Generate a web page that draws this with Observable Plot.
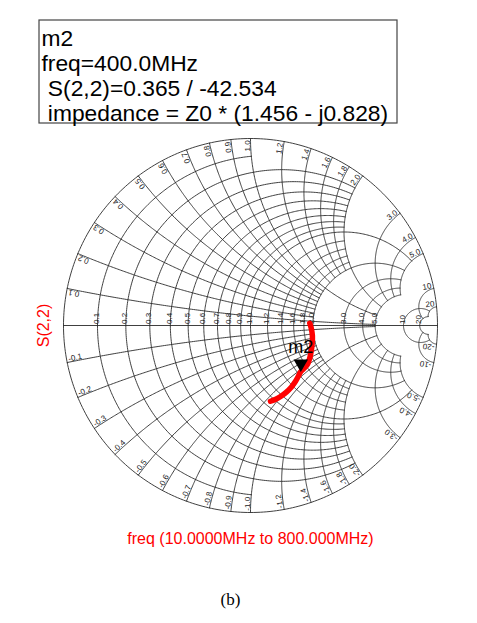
<!DOCTYPE html>
<html><head><meta charset="utf-8">
<script src="https://cdn.jsdelivr.net/npm/d3@7"></script>
<script src="https://cdn.jsdelivr.net/npm/@observablehq/plot@0.6"></script>
<style>body{margin:0;background:#fff}svg{display:block}</style>
</head><body><div id="chart"></div>
<script>
// Smith-chart grid values (normalized impedance) and how far each line reaches
const resistanceValues = [0.1,0.2,0.3,0.4,0.5,0.6,0.7,0.8,0.9,1.0,1.2,1.4,1.6,1.8,2.0,3.0,4.0,5.0,10,20];
const resistanceReach  = [1,2,2,2,2,2,2,2,2,5,2,2,2,2,5,5,5,5,20,20];   // max |x|
const reactanceValues  = [0.1,0.2,0.3,0.4,0.5,0.6,0.7,0.8,0.9,1.0,1.2,1.4,1.6,1.8,2.0,3.0,4.0,5.0,10,20];
const reactanceReach   = [5,2,2,2,2,2,2,2,2,5,2,2,2,2,5,5,5,5,20,20];   // max r
const resistanceLabels = ["0.1","0.2","0.3","0.4","0.5","0.6","0.7","0.8","0.9","1.0","1.2","1.4","1.6","1.8","2.0","3.0","4.0","5.0","10","20"];
const reactanceLabelsUpper = ["0.1","0.2","0.3","0.4","0.5","0.6","0.7","0.8","0.9","1.0","1.2","1.4","1.6","1.8","2.0","3.0","4.0","5.0","10","20"];
const reactanceLabelsLower = ["-0.1","-0.2","-0.3","-0.4","-0.5","-0.6","-0.7","-0.8","-0.9","-1.0","-1.2","-1.4","-1.6","-1.8","-2.0","-3.0","-4.0","-5.0","-10","-20"];

// S(2,2) trace (reflection coefficient re / im)
const traceFreqMHz = [10, 40, 80, 130, 180, 240, 300, 350, 400, 450, 500, 560, 620, 680, 740, 800];
const traceRe      = [0.317,0.326,0.331,0.330,0.325,0.318,0.306,0.290,0.269,0.255,0.240,0.218,0.192,0.163,0.135,0.107];
const traceIm      = [0.012,-0.020,-0.055,-0.095,-0.135,-0.170,-0.205,-0.226,-0.247,-0.273,-0.300,-0.330,-0.356,-0.378,-0.394,-0.405];

// marker readout
const markerName = "m2";
const markerFreq = "400.0MHz";
const markerMag = 0.365, markerAngleDeg = -42.534;
const markerZ = [1.456, -0.828];
const traceName = "S(2,2)";
const sweepText = "freq (10.0000MHz to 800.000MHz)";
const figureTag = "(b)";

// ---------- layout helpers (page pixel -> reflection plane) ----------
const CX = 250, CY = 325, RAD = 187;
const toX = px => (px - CX) / RAD, toY = py => (CY - py) / RAD;

// ---------- build grid geometry ----------
function gam(r,x){const den=(r+1)*(r+1)+x*x;return [((r-1)*(r+1)+x*x)/den,(2*x)/den];}
const gridPts = [];
function addR(r, X, id) {
  const cx = r/(1+r), rad = 1/(1+r);
  const [gx, gy] = gam(r, X);
  const aEnd = Math.atan2(gy, gx-cx);
  const n = 160;
  for (const s of [1,-1]) for (let i=0;i<=n;i++){
    const a = Math.PI + (aEnd-Math.PI)*i/n;
    gridPts.push({id:id+"_"+s, gx: cx+rad*Math.cos(a), gy: s*rad*Math.sin(a)});
  }
}
function addX(x, R, id) {
  const cy = 1/x, rad = 1/x;
  const [x0,y0] = gam(0,x), [x1,y1] = gam(R,x);
  let b0 = Math.atan2(y0-cy, x0-1), b1 = Math.atan2(y1-cy, x1-1);
  const T = 2*Math.PI;
  b0 = ((b0%T)+T)%T; b1 = ((b1%T)+T)%T; if (b1<b0) b1+=T;
  const n = 160;
  for (const s of [1,-1]) for (let i=0;i<=n;i++){
    const b = b0+(b1-b0)*i/n;
    gridPts.push({id:"x"+id+"_"+s, gx: 1+rad*Math.cos(b), gy: s*(cy+rad*Math.sin(b))});
  }
}
resistanceValues.forEach((r,i)=>addR(r, resistanceReach[i], "r"+i));
reactanceValues.forEach((x,i)=>addX(x, reactanceReach[i], i));
for (let i=0;i<=360;i++){const a=i/360*2*Math.PI;gridPts.push({id:"outer",gx:Math.cos(a),gy:Math.sin(a)});}

const rLab = resistanceValues.map((r,i)=>({gx:(r-1)/(r+1), gy:0, t:resistanceLabels[i]}));
const up = [], lo = [];
reactanceValues.forEach((x,i)=>{
  const [gx,gy] = gam(0,x);
  const th = Math.atan2(gy,gx);
  const rr = 0.99;
  up.push({gx: rr*Math.cos(th+0.004), gy: rr*Math.sin(th+0.004), rot: -th*180/Math.PI, t: reactanceLabelsUpper[i]});
  lo.push({gx: rr*Math.cos(-th-0.004), gy: rr*Math.sin(-th-0.004), rot: -(-th*180/Math.PI+180), t: reactanceLabelsLower[i]});
});

const trace = traceFreqMHz.map((f,i)=>({f, gx:traceRe[i], gy:traceIm[i]}));
const mk = {gx: markerMag*Math.cos(markerAngleDeg*Math.PI/180), gy: markerMag*Math.sin(markerAngleDeg*Math.PI/180)};
const readout = [markerName, "freq="+markerFreq, " "+traceName+"="+markerMag+" / "+markerAngleDeg,
  " impedance = Z0 * ("+markerZ[0]+" - j"+Math.abs(markerZ[1]).toFixed(3)+")"];
const baselines = [45, 70, 95, 120];

const plot = Plot.plot({
  width: 477, height: 623,
  marginLeft: CX-RAD, marginRight: 477-(CX+RAD), marginTop: CY-RAD, marginBottom: 623-(CY+RAD),
  x: {domain: [-1,1], axis: null},
  y: {domain: [-1,1], axis: null},
  style: {fontFamily: "Liberation Sans, Arial, sans-serif", background: "#fff", overflow: "visible"},
  marks: [
    Plot.line(gridPts, {x:"gx", y:"gy", z:"id", stroke:"#2a2a2a", strokeWidth:0.9}),
    Plot.ruleY([0], {x1:-1, x2:1, stroke:"#2a2a2a", strokeWidth:0.9}),
    Plot.text(rLab, {x:"gx", y:"gy", text:"t", rotate:-90, textAnchor:"start", dy:-1.5, dx:-1, fontSize:8, fill:"#222"}),
    Plot.text(up, {x:"gx", y:"gy", text:"t", rotate:"rot", textAnchor:"end", fontSize:8, fill:"#222", lineAnchor:"bottom"}),
    Plot.text(lo, {x:"gx", y:"gy", text:"t", rotate:"rot", textAnchor:"start", fontSize:8, fill:"#222", lineAnchor:"bottom"}),
    Plot.line(trace, {x:"gx", y:"gy", stroke:"#ff0000", strokeWidth:5.5, curve:"catmull-rom", strokeLinecap:"round"}),
    Plot.dot([mk], {x:"gx", y:"gy", symbol:"triangle", r:5.4, rotate:180, fill:"#000", stroke:"none", dy:-8}),
    Plot.text([mk], {x:"gx", y:"gy", text:()=>markerName, fontSize:18, fill:"#000", dy:-24}),
    Plot.rect([0], {x1:toX(39), x2:toX(397), y1:toY(123), y2:toY(20), fill:"none", stroke:"#444", strokeWidth:1.2}),
    Plot.text(readout, {x: toX(41), y: (d,i)=>toY(baselines[i]), text: d=>d, textAnchor:"start", fontSize:22.8, fill:"#000", lineAnchor:"bottom"}),
    Plot.text([traceName], {x:toX(43), y:0, text:d=>d, rotate:-90, fontSize:16, fill:"#ff0000"}),
    Plot.text([sweepText], {x:0, y:toY(543), text:d=>d, fontSize:16, fill:"#ff0000", lineAnchor:"bottom"}),
    Plot.text([figureTag], {x:toX(230), y:toY(604), text:d=>d, fontSize:17, fill:"#000", lineAnchor:"bottom", fontFamily:"Liberation Serif, Times New Roman, serif"})
  ]
});
document.getElementById("chart").appendChild(plot);
</script></body></html>
